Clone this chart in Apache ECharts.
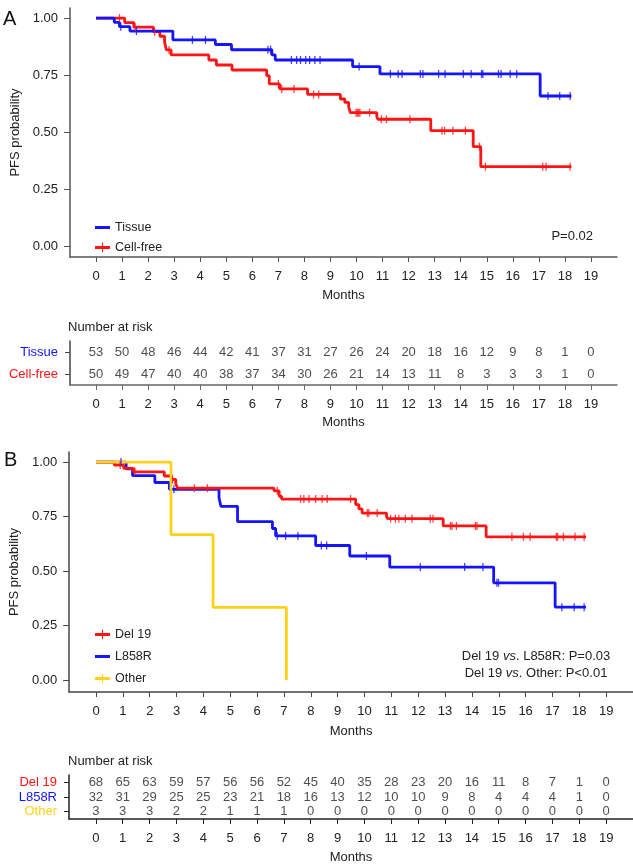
<!DOCTYPE html>
<html>
<head>
<meta charset="utf-8">
<title>PFS by sample type and EGFR mutation</title>
<script src="https://cdn.jsdelivr.net/npm/echarts@6/dist/echarts.min.js"></script>
<style>html,body{margin:0;padding:0;background:#fff;}</style>
</head>
<body>
<div id="main" style="width:633px;height:867px;"></div>
<script>
var FONT = '"Liberation Sans", Arial, Helvetica, sans-serif';
var BLUE = '#1414ff', RED = '#ff1414', YELLOW = '#ffd21a';

var months = [0, 1, 2, 3, 4, 5, 6, 7, 8, 9, 10, 11, 12, 13, 14, 15, 16, 17, 18, 19];
var probTicks = [0, 0.25, 0.5, 0.75, 1];

// panel A - step curves (time of drop, survival after drop)
var tissueT = [0, 0.7, 0.9, 1.3, 2.95, 4.58, 5.2, 6.75, 6.88, 9.85, 10.9, 17.05];
var tissueS = [1, 0.981, 0.962, 0.943, 0.904, 0.884, 0.861, 0.838, 0.816, 0.787, 0.755, 0.658];
var tissueCens = [0.95, 1.55, 3.7, 4.2, 6.6, 6.7, 7.5, 7.7, 7.85, 8.05, 8.2, 8.4, 8.6, 10.1, 11.3, 11.6, 11.75,
  12.45, 12.55, 13.15, 13.4, 14.1, 14.4, 14.8, 14.85, 15.45, 15.55, 15.9, 16.15, 17.35, 17.8, 18.2];
var tissueEnd = 18.25;

var cfT = [0, 1.1, 1.45, 2.2, 2.45, 2.63, 2.7, 2.88, 4.33, 4.62, 5.22, 6.55, 6.65, 7.05, 8.12, 9.38, 9.55, 9.7, 9.76,
  10.78, 10.82, 12.85, 14.48, 14.77];
var cfS = [1, 0.98, 0.96, 0.94, 0.92, 0.895, 0.86, 0.838, 0.816, 0.794, 0.772, 0.747, 0.711, 0.689, 0.665, 0.645,
  0.63, 0.611, 0.585, 0.567, 0.556, 0.506, 0.436, 0.348];
var cfCens = [0.9, 1.5, 2.25, 2.8, 7.0, 7.13, 7.6, 8.35, 8.55, 9.98, 10.03, 10.08, 10.13, 10.5, 10.95, 11.15, 12.05,
  13.28, 13.38, 13.7, 14.18, 14.72, 14.95, 17.15, 17.28, 18.2];
var cfEnd = 18.25;

// panel B
var d19T = [0, 0.68, 1.03, 1.4, 2.54, 2.81, 2.97, 3.04, 6.63, 6.82, 6.91, 9.67, 9.79, 9.91, 10.82, 10.86, 12.93, 14.53];
var d19S = [1, 0.986, 0.971, 0.955, 0.936, 0.92, 0.9, 0.88, 0.868, 0.843, 0.83, 0.805, 0.785, 0.766, 0.75, 0.74, 0.707, 0.657];
var d19Cens = [0.9, 1.45, 2.85, 3.66, 4.15, 6.75, 7.62, 7.74, 7.93, 8.18, 8.42, 8.61, 9.48, 10.1, 10.16, 10.47, 10.97,
  11.15, 11.28, 11.52, 11.77, 12.45, 12.55, 13.2, 13.26, 13.42, 14.13, 14.19, 15.49, 15.92, 16.17, 17.14, 17.19,
  17.41, 17.84, 18.18];
var d19End = 18.25;

var lT = [0, 1.12, 1.36, 2.19, 2.73, 4.58, 4.65, 5.27, 6.57, 6.69, 8.18, 9.45, 10.94, 14.81, 17.1];
var lS = [1, 0.969, 0.938, 0.906, 0.875, 0.836, 0.797, 0.727, 0.695, 0.661, 0.617, 0.569, 0.518, 0.446, 0.334];
var lCens = [0.93, 2.9, 6.75, 7.06, 7.52, 8.39, 8.59, 10.07, 12.08, 13.73, 14.41, 14.93, 14.99, 17.35, 17.81, 18.18];
var lEnd = 18.25;

var otherT = [0, 2.79, 4.36, 7.09];
var otherS = [1, 0.667, 0.333, 0];

// number at risk
var riskTissue = [53, 50, 48, 46, 44, 42, 41, 37, 31, 27, 26, 24, 20, 18, 16, 12, 9, 8, 1, 0];
var riskCellFree = [50, 49, 47, 40, 40, 38, 37, 34, 30, 26, 21, 14, 13, 11, 8, 3, 3, 3, 1, 0];
var riskDel19 = [68, 65, 63, 59, 57, 56, 56, 52, 45, 40, 35, 28, 23, 20, 16, 11, 8, 7, 1, 0];
var riskL858R = [32, 31, 29, 25, 25, 23, 21, 18, 16, 13, 12, 10, 10, 9, 8, 4, 4, 4, 1, 0];
var riskOther = [3, 3, 3, 2, 2, 1, 1, 1, 0, 0, 0, 0, 0, 0, 0, 0, 0, 0, 0, 0];

var rowColors = {'Tissue': BLUE, 'Cell-free': RED, 'Del 19': RED, 'L858R': BLUE, 'Other': YELLOW};

function stepData(t, s, end) {
  var d = t.map(function (x, i) { return [x, s[i]]; });
  if (end != null) d.push([end, s[s.length - 1]]);
  return d;
}
function survAt(t, s, x) {
  var v = s[0];
  for (var i = 0; i < t.length; i++) if (t[i] <= x) v = s[i];
  return v;
}
function censData(t, s, c) {
  return c.map(function (x) { return [x, survAt(t, s, x)]; });
}

function curve(name, t, s, end, color, gi) {
  return {
    name: name, type: 'line', step: 'end', xAxisIndex: gi, yAxisIndex: gi,
    showSymbol: false, symbol: 'none', data: stepData(t, s, end),
    itemStyle: {color: color}, lineStyle: {color: color, width: 2.8}
  };
}
function censors(name, t, s, c, color, gi) {
  return {
    name: name, type: 'scatter', xAxisIndex: gi, yAxisIndex: gi,
    symbol: 'rect', symbolSize: [1.3, 8], data: censData(t, s, c),
    itemStyle: {color: color}, z: 3
  };
}
function riskRow(row, counts, gi) {
  return {
    type: 'scatter', xAxisIndex: gi, yAxisIndex: gi, symbolSize: 1,
    itemStyle: {color: 'rgba(0,0,0,0)'},
    data: months.map(function (m, i) { return [m, row, counts[i]]; }),
    label: {
      show: true, position: 'inside', color: '#222', fontSize: 13, fontFamily: FONT,
      formatter: function (p) { return p.value[2]; }
    }
  };
}

function monthAxis(gi, axisColor, gap) {
  return {
    type: 'value', gridIndex: gi, min: -1, max: 20,
    name: 'Months', nameLocation: 'middle', nameGap: gap,
    nameTextStyle: {fontSize: 13, color: '#222', fontFamily: FONT},
    axisLine: {show: true, onZero: false, lineStyle: {color: axisColor, width: 1.5}},
    axisTick: {show: true, customValues: months, length: 5, lineStyle: {color: axisColor}},
    axisLabel: {customValues: months, margin: 13, fontSize: 13, color: '#222', fontFamily: FONT},
    splitLine: {show: false}
  };
}
function probAxis(gi, min, max, axisColor) {
  return {
    type: 'value', gridIndex: gi, min: min, max: max,
    name: 'PFS probability', nameLocation: 'middle', nameGap: 46, nameRotate: 90,
    nameTextStyle: {fontSize: 13, color: '#222', fontFamily: FONT},
    axisLine: {show: true, onZero: false, lineStyle: {color: axisColor, width: 1.5}},
    axisTick: {show: true, customValues: probTicks, length: 6, lineStyle: {color: axisColor}},
    axisLabel: {
      customValues: probTicks, margin: 12, fontSize: 13, color: '#222', fontFamily: FONT,
      formatter: function (v) { return v.toFixed(2); }
    },
    splitLine: {show: false}
  };
}
function rowAxis(gi, rows, axisColor) {
  return {
    type: 'category', gridIndex: gi, data: rows, inverse: true,
    axisLine: {show: true, onZero: false, lineStyle: {color: axisColor, width: 1.5}},
    axisTick: {show: true, alignWithLabel: true, interval: 0, length: 5, lineStyle: {color: axisColor}},
    axisLabel: {
      interval: 0, hideOverlap: false, margin: 12, fontSize: 13, fontFamily: FONT,
      color: function (v) { return rowColors[v]; }
    },
    splitLine: {show: false}
  };
}

var plusIcon = 'path://M0,3.5H16V6.5H0Z M7.4,0H8.6V10H7.4Z';
var lineIcon = 'path://M0,3.5H16V6.5H0Z M7.4,3.5H8.6V6.5H7.4Z';

var chart = echarts.init(document.getElementById('main'));
chart.setOption({
  animation: false,
  backgroundColor: '#fff',
  textStyle: {fontFamily: FONT},
  grid: [
    {left: 70, top: 8, width: 547, height: 249},
    {left: 70, top: 341, width: 547, height: 44},
    {left: 69, top: 452, width: 564, height: 240},
    {left: 69, top: 775, width: 564, height: 44}
  ],
  xAxis: [
    monthAxis(0, '#555', 32),
    monthAxis(1, '#666', 31),
    monthAxis(2, '#444', 33),
    monthAxis(3, '#222', 32)
  ],
  yAxis: [
    probAxis(0, -0.048, 1.044, '#555'),
    rowAxis(1, ['Tissue', 'Cell-free'], '#444'),
    probAxis(2, -0.055, 1.046, '#444'),
    rowAxis(3, ['Del 19', 'L858R', 'Other'], '#222')
  ],
  legend: [
    {
      orient: 'vertical', left: 90, top: 216, itemWidth: 15, itemHeight: 10, itemGap: 7,
      textStyle: {fontSize: 12.5, color: '#222', fontFamily: FONT},
      data: [{name: 'Tissue', icon: lineIcon}, {name: 'Cell-free', icon: plusIcon}]
    },
    {
      orient: 'vertical', left: 90, top: 623, itemWidth: 15, itemHeight: 10, itemGap: 9,
      textStyle: {fontSize: 12.5, color: '#222', fontFamily: FONT},
      data: [{name: 'Del 19', icon: plusIcon}, {name: 'L858R', icon: lineIcon}, {name: 'Other', icon: plusIcon}]
    }
  ],
  graphic: [
    {type: 'text', style: {text: 'A', x: 3, y: 19, verticalAlign: 'middle', font: '20px ' + FONT, fill: '#111'}},
    {type: 'text', style: {text: 'B', x: 4, y: 460, verticalAlign: 'middle', font: '20px ' + FONT, fill: '#111'}},
    {type: 'text', style: {text: 'Number at risk', x: 68, y: 327, verticalAlign: 'middle', font: '13px ' + FONT, fill: '#222'}},
    {type: 'text', style: {text: 'Number at risk', x: 68, y: 761, verticalAlign: 'middle', font: '13px ' + FONT, fill: '#222'}},
    {type: 'text', style: {text: 'P=0.02', x: 593, y: 236, align: 'right', verticalAlign: 'middle', font: '13px ' + FONT, fill: '#222'}},
    {type: 'text', style: {
      text: '{a|Del 19 }{i|vs}{a|. L858R: P=0.03}', x: 536, y: 656, align: 'center', verticalAlign: 'middle',
      rich: {a: {fontSize: 13, fontFamily: FONT, fill: '#222'}, i: {fontSize: 13, fontFamily: FONT, fontStyle: 'italic', fill: '#222'}}
    }},
    {type: 'text', style: {
      text: '{a|Del 19 }{i|vs}{a|. Other: P<0.01}', x: 536, y: 673, align: 'center', verticalAlign: 'middle',
      rich: {a: {fontSize: 13, fontFamily: FONT, fill: '#222'}, i: {fontSize: 13, fontFamily: FONT, fontStyle: 'italic', fill: '#222'}}
    }}
  ],
  series: [
    curve('Cell-free', cfT, cfS, cfEnd, RED, 0),
    censors('Cell-free', cfT, cfS, cfCens, RED, 0),
    curve('Tissue', tissueT, tissueS, tissueEnd, BLUE, 0),
    censors('Tissue', tissueT, tissueS, tissueCens, BLUE, 0),
    riskRow('Tissue', riskTissue, 1),
    riskRow('Cell-free', riskCellFree, 1),
    curve('L858R', lT, lS, lEnd, BLUE, 2),
    censors('L858R', lT, lS, lCens, BLUE, 2),
    curve('Del 19', d19T, d19S, d19End, RED, 2),
    censors('Del 19', d19T, d19S, d19Cens, RED, 2),
    curve('Other', otherT, otherS, null, YELLOW, 2),
    riskRow('Del 19', riskDel19, 3),
    riskRow('L858R', riskL858R, 3),
    riskRow('Other', riskOther, 3)
  ]
});
</script>
</body>
</html>
